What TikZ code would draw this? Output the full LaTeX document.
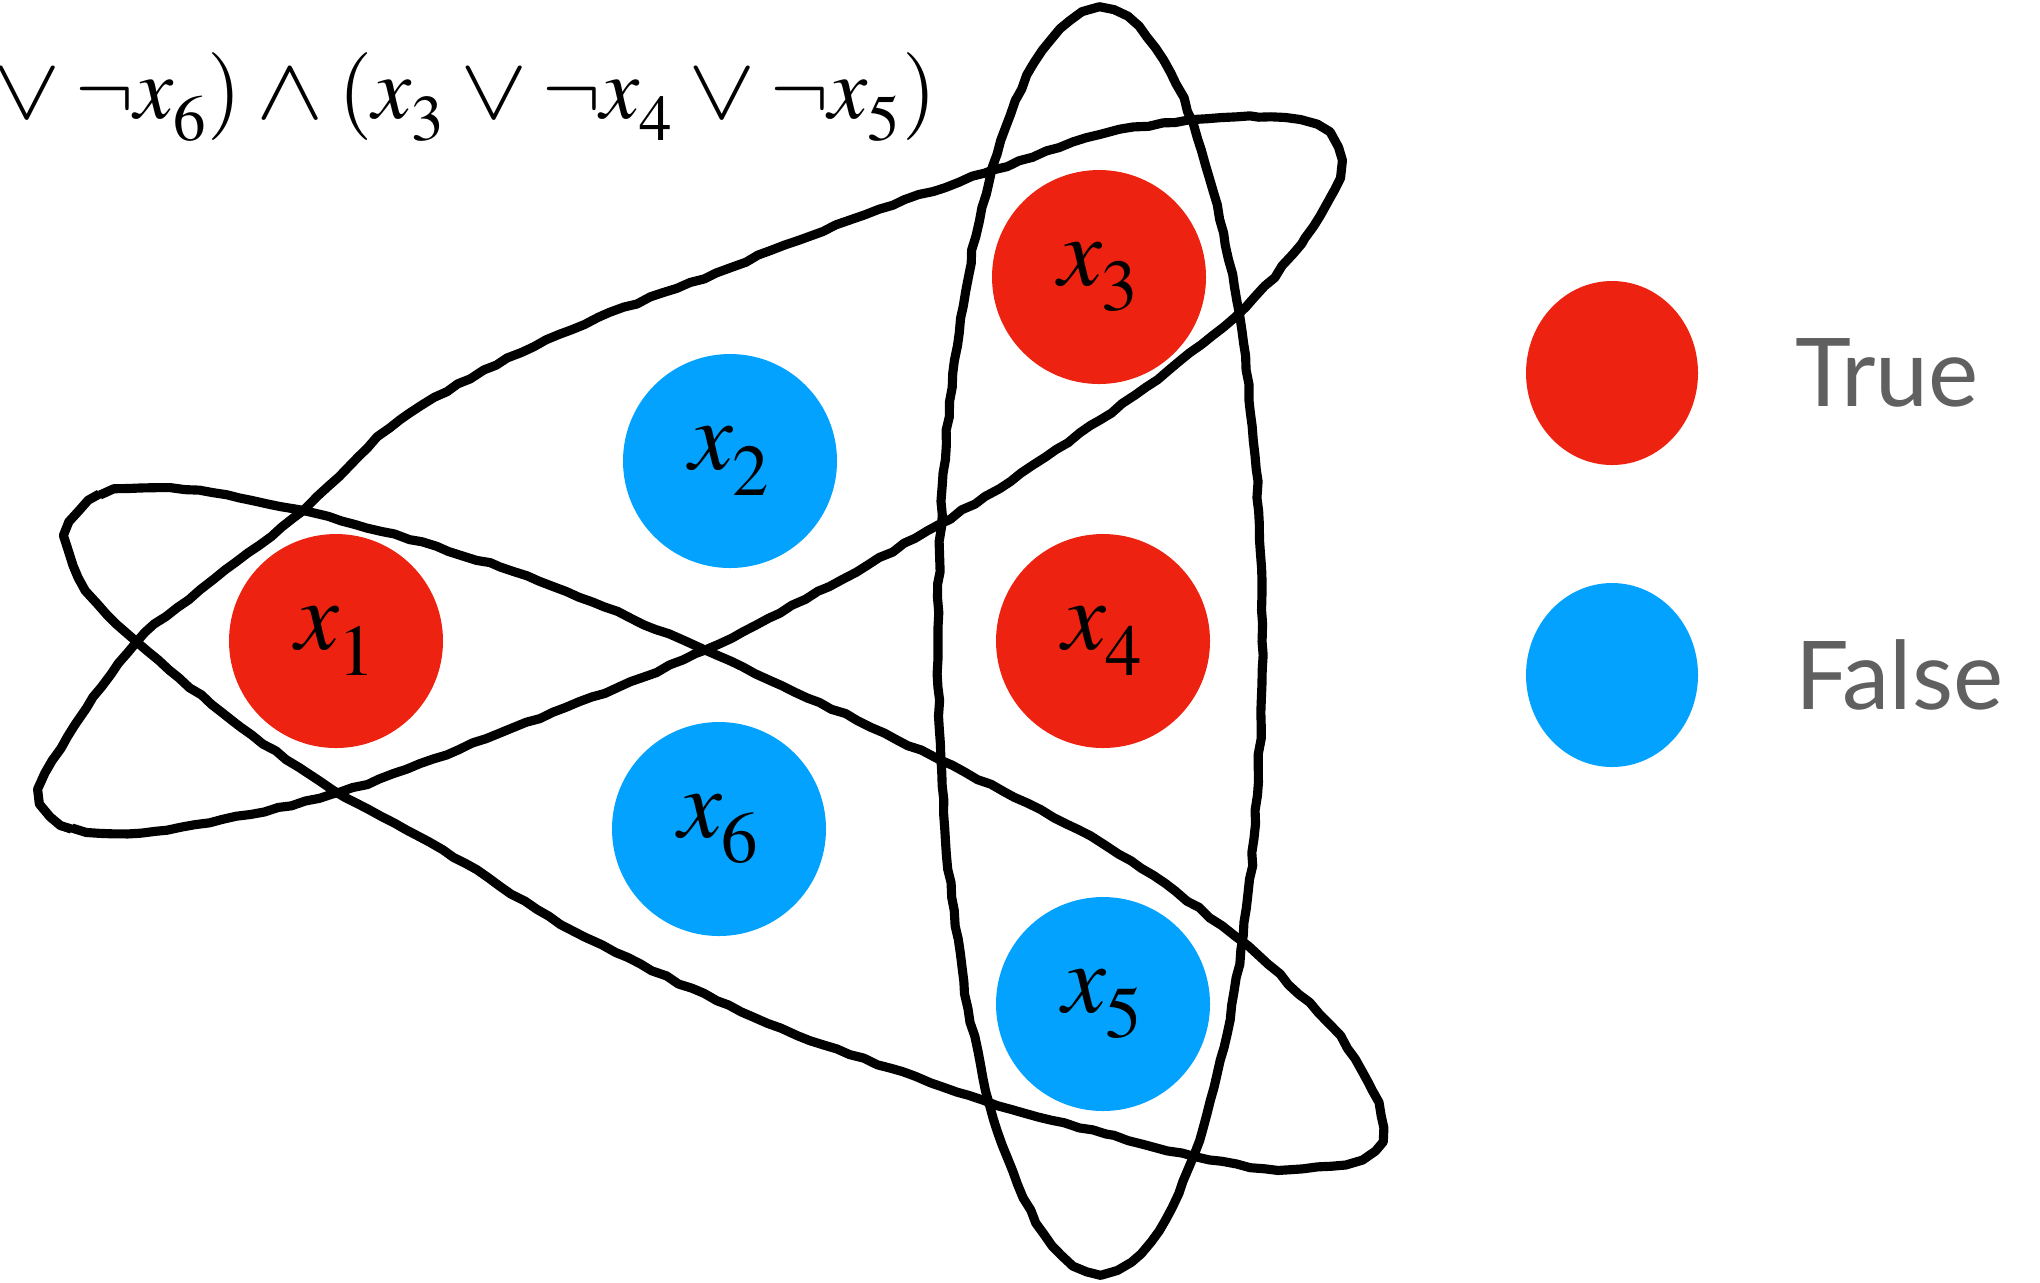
\documentclass[tikz,border=0pt]{standalone}
\usepackage{mathptmx}
\usepackage[no-math]{fontspec}
\newfontfamily\legendfont{Lato}
\usetikzlibrary{positioning,shapes.geometric,decorations.pathmorphing}
\definecolor{litT}{RGB}{238,34,16}
\definecolor{litF}{RGB}{3,162,254}
\definecolor{keyG}{RGB}{96,96,96}
\newcommand\xv[1]{x_{\lower0.11em\hbox{$\scriptstyle#1$}}}
\newcommand\orop{\mathbin{\scalebox{1.15}[1.0]{$\lor$}}}
\newcommand\andop{\mathbin{\scalebox{1.15}[1.0]{$\land$}}}

\begin{document}
\begin{tikzpicture}[x=0.1mm,y=-0.1mm,
  var/.style={circle,minimum size=21.4mm,inner sep=0pt,font=\fontsize{28}{30}\selectfont},
  keydot/.style={ellipse,minimum width=17.2mm,minimum height=18.4mm,inner sep=0pt},
  keytext/.style={inner sep=0pt,text=keyG,font=\legendfont\fontsize{27}{30}\selectfont},
  clauseloop/.style={line width=2.6pt,line join=round,decorate,
    decoration={random steps,segment length=4pt,amplitude=0.35pt}}]
\pgfmathsetseed{11}
\useasboundingbox (0,0) rectangle (2040,1282);
\clip (0,0) rectangle (2040,1282);

% formula, cut at the left edge
\node[anchor=base east,inner sep=0pt,font=\fontsize{25}{30}\selectfont] (clause) at (937,118)
  {$\medmuskip=3mu\relax \xv5\orop\neg\xv6)\andop(\xv3\orop\neg\xv4\orop\neg\xv5)$};

% variables
\node[var,fill=litT] (x1) at (336,641) {$\xv1$};
\node[var,fill=litF] (x2) at (730,461) {$\xv2$};
\node[var,fill=litT] (x3) at (1099,277) {$\xv3$};
\node[var,fill=litT] (x4) at (1103,641) {$\xv4$};
\node[var,fill=litF] (x5) at (1103,1004) {$\xv5$};
\node[var,fill=litF] (x6) at (719,829) {$\xv6$};

% clauses
\draw[clauseloop] plot[smooth cycle,tension=0.5] coordinates {
  (40,790) (72,828) (167,830) (340,792) (500,733) (705,650)
  (938,525) (1100,420) (1235,317) (1305,238) (1334,190) (1340,160) (1328,133)
  (1300,121) (1250,116) (1190,120) (1100,135) (985,173) (850,220) (716,273)
  (546,340) (400,420) (303,510) (200,590) (137,642) (75,725)};
\draw[clauseloop] plot[smooth cycle,tension=0.5] coordinates {
  (66,535) (100,495) (170,488) (300,510) (500,567) (705,650) (940,760)
  (1106,846) (1236,937) (1330,1025) (1372,1090) (1383,1128) (1374,1150) (1345,1163)
  (1278,1170) (1182,1153) (1106,1134) (983,1100) (781,1028)
  (585,937) (443,850) (333,790) (234,722) (137,642) (86,590)};
\draw[clauseloop] (1100,641) ellipse [x radius=162,y radius=631];

% legend
\node[keydot,fill=litT] (keyT) at (1612,373) {};
\node[keydot,fill=litF] (keyF) at (1612,675) {};
\node[keytext,right=9.6mm of keyT] (keyTlbl) {True};
\node[keytext,right=9.6mm of keyF] (keyFlbl) {False};
\end{tikzpicture}
\end{document}
